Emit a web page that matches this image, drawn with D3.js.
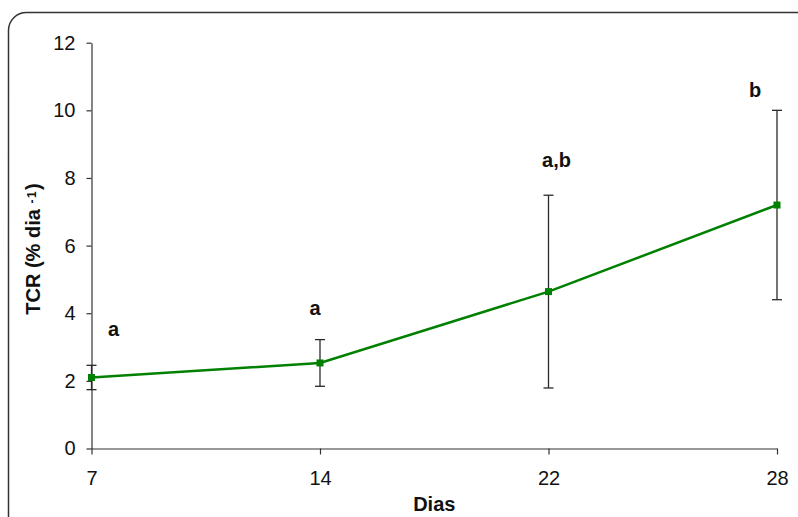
<!DOCTYPE html>
<html>
<head>
<meta charset="utf-8">
<script src="https://cdn.jsdelivr.net/npm/d3@7"></script>
<style>
  html, body { margin: 0; padding: 0; background: #fff; }
  svg { display: block; }
  text { font-family: "Liberation Sans", Arial, sans-serif; }
</style>
</head>
<body>
<svg id="chart" width="798" height="517"></svg>
<script>
const days = ["7", "14", "22", "28"];
const tcrMean = [2.1, 2.53, 4.64, 7.2];
const tcrErr = [0.36, 0.69, 2.85, 2.8];
const groupLetters = ["a", "a", "a,b", "b"];
const letterY = [3.33, 3.95, 8.32, 10.39];
const yTicks = [0, 2, 4, 6, 8, 10, 12];

const svg = d3.select("#chart");
const W = 798, H = 517;
const margin = { left: 91.5, right: W - 777, top: 42.7, bottom: H - 448.5 };

// outer rounded frame (cropped at right/bottom)
svg.append("rect")
  .attr("x", 8.5).attr("y", 12.5)
  .attr("width", 820).attr("height", 540)
  .attr("rx", 18).attr("ry", 18)
  .attr("fill", "none").attr("stroke", "#333").attr("stroke-width", 1.5);

const x = d3.scalePoint().domain(days).range([margin.left, W - margin.right]);
const y = d3.scaleLinear().domain([0, 12]).range([H - margin.bottom, margin.top]);

// axes
const yAxis = svg.append("g")
  .attr("transform", `translate(${margin.left},0)`)
  .call(d3.axisLeft(y).tickValues(yTicks).tickSize(5).tickSizeOuter(0).tickPadding(11));
const xAxis = svg.append("g")
  .attr("transform", `translate(0,${H - margin.bottom})`)
  .call(d3.axisBottom(x).tickSize(6).tickSizeOuter(0).tickPadding(16));

[yAxis, xAxis].forEach(g => {
  g.select(".domain").attr("stroke", "#333").attr("stroke-width", 1.2);
  g.selectAll(".tick line").attr("stroke", "#333").attr("stroke-width", 1.2);
  g.selectAll(".tick text").attr("fill", "#111")
    .style("font-size", "20px").style("font-family", "'Liberation Sans', Arial, sans-serif");
});

// error bars
const data = days.map((d, i) => ({ d, m: tcrMean[i], e: tcrErr[i], l: groupLetters[i], ly: letterY[i] }));
const eb = svg.append("g").attr("stroke", "#2a2a2a").attr("stroke-width", 1.3);
data.forEach(p => {
  const cx = x(p.d);
  eb.append("line").attr("x1", cx).attr("x2", cx).attr("y1", y(p.m - p.e)).attr("y2", y(p.m + p.e));
  eb.append("line").attr("x1", cx - 5).attr("x2", cx + 5).attr("y1", y(p.m + p.e)).attr("y2", y(p.m + p.e));
  eb.append("line").attr("x1", cx - 5).attr("x2", cx + 5).attr("y1", y(p.m - p.e)).attr("y2", y(p.m - p.e));
});

// line
svg.append("path")
  .datum(data)
  .attr("fill", "none")
  .attr("stroke", "#008000")
  .attr("stroke-width", 2.5)
  .attr("d", d3.line().x(p => x(p.d)).y(p => y(p.m)));

// markers
svg.selectAll("rect.mk").data(data).enter().append("rect")
  .attr("class", "mk")
  .attr("x", p => x(p.d) - 3.5).attr("y", p => y(p.m) - 3.5)
  .attr("width", 7).attr("height", 7)
  .attr("fill", "#008000");

// group letters
const dxs = [22, -5, 8, -22];
svg.selectAll("text.lt").data(data).enter().append("text")
  .attr("class", "lt")
  .attr("x", (p, i) => x(p.d) + dxs[i])
  .attr("y", p => y(p.ly))
  .attr("text-anchor", "middle")
  .attr("fill", "#111")
  .style("font-size", "20px").style("font-weight", "bold")
  .text(p => p.l);

// axis titles
svg.append("text")
  .attr("x", (margin.left + W - margin.right) / 2)
  .attr("y", 511)
  .attr("text-anchor", "middle")
  .attr("fill", "#111")
  .style("font-size", "20px").style("font-weight", "bold")
  .text("Dias");

const yt = svg.append("text")
  .attr("transform", `translate(40,249) rotate(-90)`)
  .attr("text-anchor", "middle")
  .attr("fill", "#111")
  .style("font-size", "20px").style("font-weight", "bold");
yt.append("tspan").text("TCR (% dia ");
yt.append("tspan").attr("dy", "-4").style("font-size", "12px").style("letter-spacing", "1.5px").text("-1");
yt.append("tspan").attr("dy", "4").text(")");
</script>
</body>
</html>
